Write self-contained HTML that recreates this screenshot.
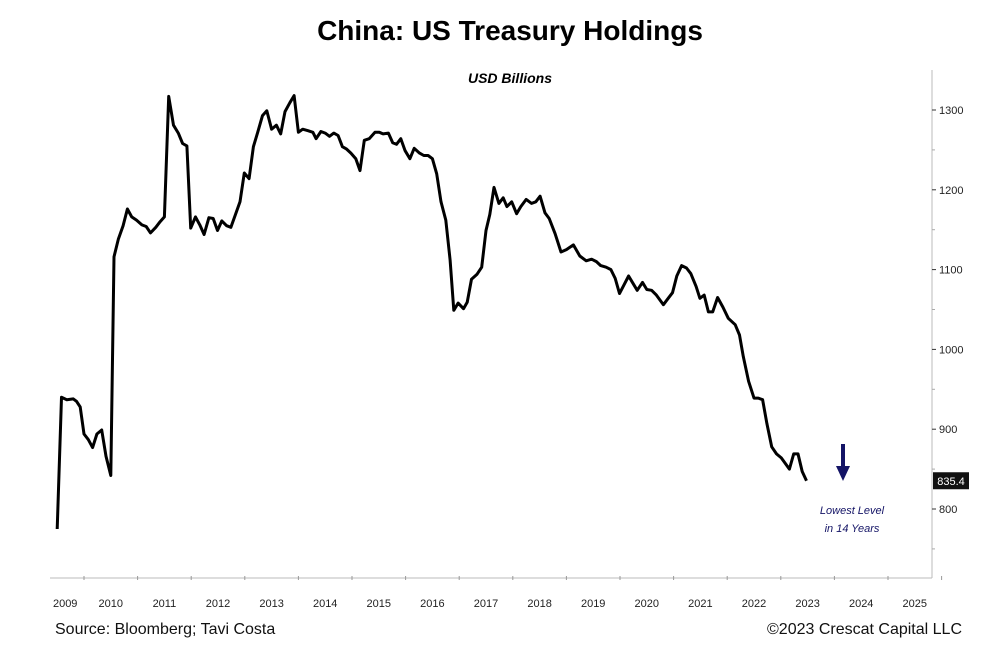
<!DOCTYPE html>
<html><head><meta charset="utf-8"><style>
html,body{margin:0;padding:0;background:#fff;}
svg{display:block;font-family:"Liberation Sans",sans-serif;}
</style></head><body>
<svg id="chart" width="1000" height="663" viewBox="0 0 1000 663">
<text x="510" y="40" text-anchor="middle" font-size="28" font-weight="bold" fill="#000">China: US Treasury Holdings</text>
<text x="510" y="83" text-anchor="middle" font-size="14" font-weight="bold" font-style="italic" fill="#000">USD Billions</text>
<line x1="50" y1="578" x2="932" y2="578" stroke="#bbb" stroke-width="1"/>
<line x1="932" y1="70" x2="932" y2="578" stroke="#bbb" stroke-width="1"/>
<g id="xticks"></g><g id="yticks"></g>
<path id="series" fill="none" stroke="#000" stroke-width="3" stroke-linejoin="round"/>
<g>
<rect id="badgeRect" x="933" y="473" width="36" height="17" fill="#111"/>
<text id="badgeText" x="951" y="486" text-anchor="middle" font-size="11" fill="#fff">835.4</text>
</g>
<g>
<line x1="843" y1="444" x2="843" y2="468" stroke="#141466" stroke-width="4"/>
<polygon points="836,466 850,466 843,481" fill="#141466"/>
</g>
<text x="852" y="514" text-anchor="middle" font-size="11" font-style="italic" fill="#141466">Lowest Level</text>
<text x="852" y="532" text-anchor="middle" font-size="11" font-style="italic" fill="#141466">in 14 Years</text>
<text x="55" y="634" font-size="16" fill="#111">Source: Bloomberg; Tavi Costa</text>
<text x="962" y="634" text-anchor="end" font-size="16" fill="#111">©2023 Crescat Capital LLC</text>
</svg>
<script>
const years = [2009,2010,2011,2012,2013,2014,2015,2016,2017,2018,2019,2020,2021,2022,2023,2024,2025];
const yTickValues = [800,900,1000,1100,1200,1300];
const yMinorTicks = [750,850,950,1050,1150,1250];
const dates = [2009.50,2009.58,2009.68,2009.80,2009.86,2009.93,2010.00,2010.08,2010.16,2010.24,2010.33,2010.41,2010.50,2010.56,2010.64,2010.73,2010.81,2010.89,2010.98,2011.08,2011.16,2011.24,2011.34,2011.42,2011.50,2011.58,2011.67,2011.76,2011.84,2011.92,2011.99,2012.08,2012.16,2012.24,2012.33,2012.41,2012.49,2012.57,2012.66,2012.74,2012.82,2012.91,2012.99,2013.08,2013.16,2013.24,2013.33,2013.41,2013.50,2013.59,2013.67,2013.75,2013.84,2013.92,2014.00,2014.08,2014.18,2014.27,2014.33,2014.42,2014.50,2014.58,2014.66,2014.74,2014.82,2014.90,2014.98,2015.07,2015.15,2015.23,2015.32,2015.43,2015.51,2015.58,2015.68,2015.76,2015.83,2015.91,2015.99,2016.08,2016.16,2016.26,2016.34,2016.42,2016.50,2016.58,2016.66,2016.75,2016.83,2016.90,2016.98,2017.08,2017.15,2017.23,2017.33,2017.42,2017.50,2017.57,2017.65,2017.74,2017.82,2017.89,2017.98,2018.07,2018.15,2018.25,2018.35,2018.43,2018.51,2018.60,2018.68,2018.79,2018.90,2019.00,2019.13,2019.25,2019.37,2019.47,2019.56,2019.64,2019.74,2019.83,2019.91,2019.99,2020.06,2020.16,2020.24,2020.32,2020.42,2020.50,2020.59,2020.68,2020.81,2020.90,2020.98,2021.06,2021.15,2021.24,2021.32,2021.42,2021.49,2021.57,2021.65,2021.73,2021.82,2021.92,2022.02,2022.15,2022.23,2022.30,2022.40,2022.50,2022.58,2022.66,2022.74,2022.83,2022.92,2023.01,2023.16,2023.24,2023.32,2023.40,2023.48];
const holdings = [775,940,937,938,935,928,894,887,877,894,899,866,842,1116,1138,1155,1176,1166,1162,1156,1154,1146,1153,1160,1166,1317,1281,1271,1258,1255,1152,1166,1156,1144,1165,1164,1149,1161,1155,1153,1168,1185,1221,1214,1254,1272,1293,1299,1276,1281,1270,1298,1309,1318,1272,1276,1274,1272,1264,1273,1271,1267,1271,1268,1254,1251,1246,1239,1224,1262,1264,1272,1272,1270,1271,1259,1257,1264,1249,1239,1252,1246,1243,1243,1239,1220,1185,1162,1112,1049,1058,1051,1059,1088,1094,1103,1149,1169,1203,1183,1190,1179,1185,1170,1179,1188,1183,1185,1192,1171,1164,1145,1122,1125,1131,1117,1111,1113,1110,1105,1103,1100,1089,1070,1079,1092,1083,1074,1084,1075,1074,1068,1056,1064,1071,1092,1105,1102,1095,1079,1064,1068,1047,1047,1065,1053,1039,1031,1018,991,960,939,939,937,907,878,869,864,850,869,869,847,835.4];

const NS = "http://www.w3.org/2000/svg";
function xScale(t){ return 84 + (t - 2010) * 53.6; }
function yScale(v){ return 509 - (v - 800) * 0.798; }

const xt = document.getElementById('xticks');
years.forEach(function(yr){
  const tk = document.createElementNS(NS,'line');
  tk.setAttribute('x1', xScale(yr+1)); tk.setAttribute('x2', xScale(yr+1));
  tk.setAttribute('y1', 576); tk.setAttribute('y2', 580);
  tk.setAttribute('stroke', '#999');
  
  
  xt.appendChild(tk);
  const lb = document.createElementNS(NS,'text');
  lb.setAttribute('x', xScale(yr+0.5) + (yr===2009 ? 8 : 0));
  lb.setAttribute('y', 607);
  lb.setAttribute('text-anchor', 'middle');
  lb.setAttribute('font-size', '11');
  lb.setAttribute('fill', '#222');
  lb.textContent = yr;
  
  
  xt.appendChild(lb);
});
const yt = document.getElementById('yticks');
yTickValues.forEach(function(v){
  const tk = document.createElementNS(NS,'line');
  tk.setAttribute('x1', 932); tk.setAttribute('x2', 936);
  tk.setAttribute('y1', yScale(v)); tk.setAttribute('y2', yScale(v));
  tk.setAttribute('stroke', '#333');
  
  
  yt.appendChild(tk);
  const lb = document.createElementNS(NS,'text');
  lb.setAttribute('x', 939);
  lb.setAttribute('y', yScale(v) + 4);
  lb.setAttribute('font-size', '11');
  lb.setAttribute('fill', '#222');
  lb.textContent = v;
  
  
  yt.appendChild(lb);
});
yMinorTicks.forEach(function(v){
  const tk = document.createElementNS(NS,'line');
  tk.setAttribute('x1', 932); tk.setAttribute('x2', 935);
  tk.setAttribute('y1', yScale(v)); tk.setAttribute('y2', yScale(v));
  tk.setAttribute('stroke', '#aaa');
  
  
  yt.appendChild(tk);
});
let d = '';
dates.forEach(function(t,i){ d += (i ? 'L' : 'M') + xScale(t).toFixed(1) + ',' + yScale(holdings[i]).toFixed(1); });
document.getElementById('series').setAttribute('d', d);
const last = holdings[holdings.length-1];
document.getElementById('badgeRect').setAttribute('y', yScale(last) - 8.5);
document.getElementById('badgeText').setAttribute('y', yScale(last) + 4);
document.getElementById('badgeText').textContent = last.toFixed(1);
</script>
</body></html>
